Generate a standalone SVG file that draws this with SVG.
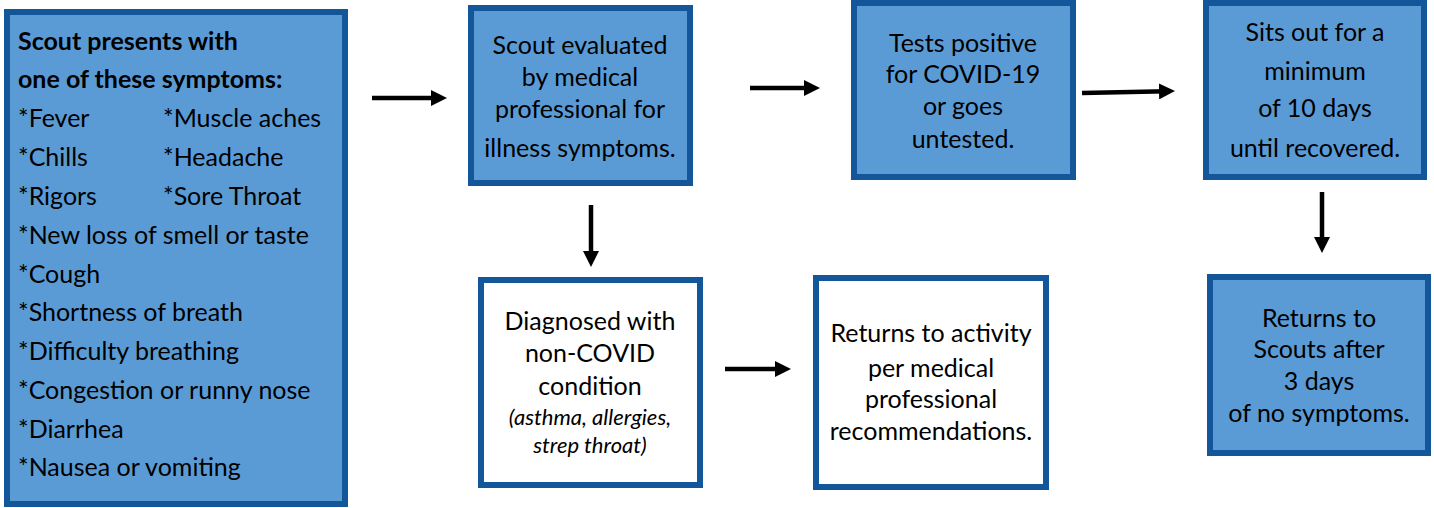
<svg xmlns="http://www.w3.org/2000/svg" width="1434" height="508" viewBox="0 0 1434 508">
<defs>
<style>
.box{fill:#5B9BD5;stroke:#135699;stroke-width:6}
.wbox{fill:#FFFFFF;stroke:#135699;stroke-width:6}
text{font-family:Lato,"Open Sans","Liberation Sans",sans-serif;font-size:25px;fill:#000}
.c{text-anchor:middle}
.b{font-weight:bold}
.i{font-style:italic;font-size:22px}
.conn{stroke:#000;stroke-width:4.5;fill:none;marker-end:url(#ah)}
</style>
<marker id="ah" markerUnits="userSpaceOnUse" markerWidth="16" markerHeight="16" refX="8" refY="8" orient="auto">
<path d="M0,0 L16,8 L0,16 z" fill="#000"/>
</marker>
</defs>
<rect width="1434" height="508" fill="#FFFFFF"/>
<g id="symptoms">
<rect class="box" x="7" y="12" width="338" height="492"/>
<text class="b" x="18" y="50">Scout presents with</text>
<text class="b" x="18" y="88">one of these symptoms:</text>
<text x="18" y="127">*Fever</text>
<text x="163" y="127">*Muscle aches</text>
<text x="18" y="166">*Chills</text>
<text x="163" y="166">*Headache</text>
<text x="18" y="205">*Rigors</text>
<text x="163" y="205">*Sore Throat</text>
<text x="18" y="244">*New loss of smell or taste</text>
<text x="18" y="283">*Cough</text>
<text x="18" y="321">*Shortness of breath</text>
<text x="18" y="360">*Difficulty breathing</text>
<text x="18" y="399">*Congestion or runny nose</text>
<text x="18" y="438">*Diarrhea</text>
<text x="18" y="476">*Nausea or vomiting</text>
</g>
<g id="evaluated">
<rect class="box" x="471" y="8" width="219" height="175"/>
<text class="c" x="580" y="54">Scout evaluated</text>
<text class="c" x="580" y="86">by medical</text>
<text class="c" x="580" y="118">professional for</text>
<text class="c" x="580" y="157">illness symptoms.</text>
</g>
<g id="positive">
<rect class="box" x="854" y="3" width="219" height="174"/>
<text class="c" x="963" y="52">Tests positive</text>
<text class="c" x="963" y="83">for COVID-19</text>
<text class="c" x="963" y="115">or goes</text>
<text class="c" x="963" y="148">untested.</text>
</g>
<g id="sitsout">
<rect class="box" x="1206" y="3" width="218" height="174"/>
<text class="c" x="1315" y="41">Sits out for a</text>
<text class="c" x="1315" y="80">minimum</text>
<text class="c" x="1315" y="117">of 10 days</text>
<text class="c" x="1315" y="157">until recovered.</text>
</g>
<g id="returnsScouts">
<rect class="box" x="1210" y="277" width="218" height="176"/>
<text class="c" x="1319" y="327">Returns to</text>
<text class="c" x="1319" y="358">Scouts after</text>
<text class="c" x="1319" y="390">3 days</text>
<text class="c" x="1319" y="422">of no symptoms.</text>
</g>
<g id="nonCovid">
<rect class="wbox" x="481" y="280" width="219" height="205"/>
<text class="c" x="590" y="330">Diagnosed with</text>
<text class="c" x="590" y="362">non-COVID</text>
<text class="c" x="590" y="395">condition</text>
<text class="c i" x="590" y="425">(asthma, allergies,</text>
<text class="c i" x="590" y="453">strep throat)</text>
</g>
<g id="returnsActivity">
<rect class="wbox" x="816" y="278" width="230" height="209"/>
<text class="c" x="931" y="342">Returns to activity</text>
<text class="c" x="931" y="377">per medical</text>
<text class="c" x="931" y="408">professional</text>
<text class="c" x="931" y="440">recommendations.</text>
</g>
<g id="connectors">
<line class="conn" x1="372" y1="98" x2="439" y2="98"/>
<line class="conn" x1="750" y1="88" x2="812" y2="88"/>
<line class="conn" x1="1082" y1="93" x2="1167" y2="91.2"/>
<line class="conn" x1="591" y1="205" x2="591" y2="259"/>
<line class="conn" x1="725" y1="369" x2="783" y2="369"/>
<line class="conn" x1="1322" y1="192" x2="1322" y2="245"/>
</g>
</svg>
